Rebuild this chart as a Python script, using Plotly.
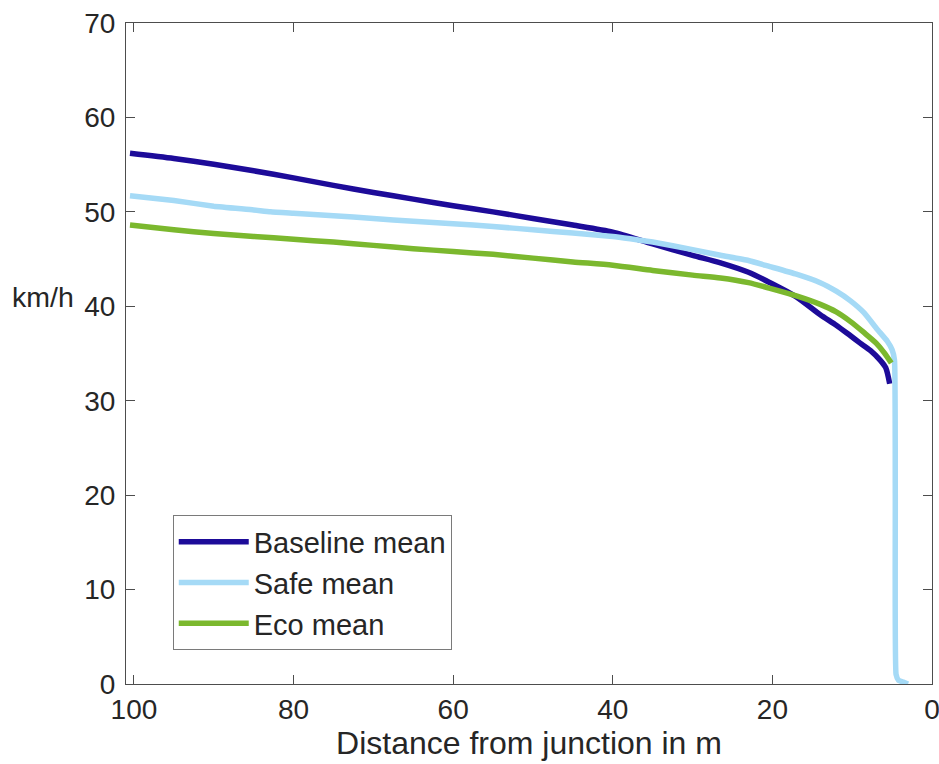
import plotly.graph_objects as go

# Baseline mean
dist_baseline = [100.5, 95, 90, 85, 80, 75, 70, 65, 60, 55, 50, 45, 40, 35, 30, 26.5, 23, 20.3, 17, 14, 12, 10.25, 9.0, 7.7, 6.5, 5.8, 5.3]
speed_baseline = [56.2, 55.65, 55.05, 54.35, 53.6, 52.8, 52.05, 51.35, 50.65, 50.0, 49.3, 48.6, 47.85, 46.6, 45.4, 44.6, 43.6, 42.5, 41.0, 39.1, 38.0, 36.9, 36.1, 35.3, 34.3, 33.5, 31.8]

# Safe mean
dist_safe = [100.5, 95, 90, 85, 82.9, 80, 75, 70, 65, 60, 55, 50, 45, 40, 37.8, 35, 30, 26.5, 23, 20.3, 17, 14, 12, 10.25, 8.5, 6.9, 5.6, 5.0, 4.7, 4.6, 4.5, 4.2, 3.6, 3.0]
speed_safe = [51.7, 51.2, 50.6, 50.2, 50.0, 49.85, 49.6, 49.3, 49.0, 48.75, 48.45, 48.1, 47.75, 47.4, 47.15, 46.8, 46.0, 45.4, 44.85, 44.2, 43.4, 42.5, 41.6, 40.6, 39.3, 37.6, 36.3, 35.4, 34.3, 20.0, 1.0, 0.4, 0.2, 0.0]

# Eco mean
dist_eco = [100.5, 95, 90, 85, 80, 75, 70, 65, 60, 55, 50, 45, 40, 35, 30, 26.5, 23, 20.3, 17, 14, 12, 10.25, 8.5, 7.0, 6.0, 5.1]
speed_eco = [48.6, 48.1, 47.7, 47.4, 47.1, 46.8, 46.45, 46.1, 45.8, 45.5, 45.1, 44.7, 44.35, 43.8, 43.3, 43.0, 42.5, 41.9, 41.1, 40.2, 39.4, 38.4, 37.2, 36.1, 35.1, 34.0]

x_ticks = [100, 80, 60, 40, 20, 0]
y_ticks = [0, 10, 20, 30, 40, 50, 60, 70]

FONT = "Liberation Sans, Arial, Helvetica, sans-serif"
TXT = "#262626"
AX = "#4d4d4d"

fig = go.Figure()
fig.add_trace(go.Scatter(x=dist_baseline, y=speed_baseline, mode="lines", name="Baseline mean",
                         line=dict(color="#1d0b99", width=5.5, shape="spline", smoothing=0.7)))
fig.add_trace(go.Scatter(x=dist_safe, y=speed_safe, mode="lines", name="Safe mean",
                         line=dict(color="#a5daf6", width=5.5, shape="spline", smoothing=0.4)))
fig.add_trace(go.Scatter(x=dist_eco, y=speed_eco, mode="lines", name="Eco mean",
                         line=dict(color="#7bb82e", width=5.5, shape="spline", smoothing=0.7)))

fig.update_layout(
    width=939, height=764,
    margin=dict(l=126, r=7, t=23, b=80, pad=0, autoexpand=False),
    paper_bgcolor="white", plot_bgcolor="white",
    font=dict(family=FONT, size=28, color=TXT),
    showlegend=True,
    legend=dict(x=0.058, y=0.255, xanchor="left", yanchor="top",
                bgcolor="white", bordercolor="#7a7a7a", borderwidth=1,
                font=dict(size=29, color=TXT), tracegroupgap=0, itemwidth=70),
)
fig.update_xaxes(range=[101, 0], tickvals=x_ticks, ticktext=[str(v) for v in x_ticks],
                 ticks="inside", ticklen=9, tickcolor=AX, showline=True, linecolor=AX,
                 linewidth=1, mirror="ticks", showgrid=False, zeroline=False,
                 ticklabeloverflow="allow", automargin=False,
                 title=dict(text="Distance from junction in m", standoff=6, font=dict(size=32, color=TXT)),
                 tickfont=dict(size=28, color=TXT))
fig.update_yaxes(range=[0, 70], tickvals=y_ticks, ticktext=[str(v) for v in y_ticks],
                 ticks="inside", ticklen=9, tickcolor=AX, showline=True, linecolor=AX,
                 linewidth=1, mirror="ticks", showgrid=False, zeroline=False,
                 automargin=False, ticklabelstandoff=4,
                 tickfont=dict(size=28, color=TXT))
fig.add_annotation(text="km/h", xref="paper", yref="paper", x=-0.103, y=0.585,
                   xanchor="center", yanchor="middle", showarrow=False,
                   font=dict(size=28.5, color=TXT))

fig.write_html("out.html")
